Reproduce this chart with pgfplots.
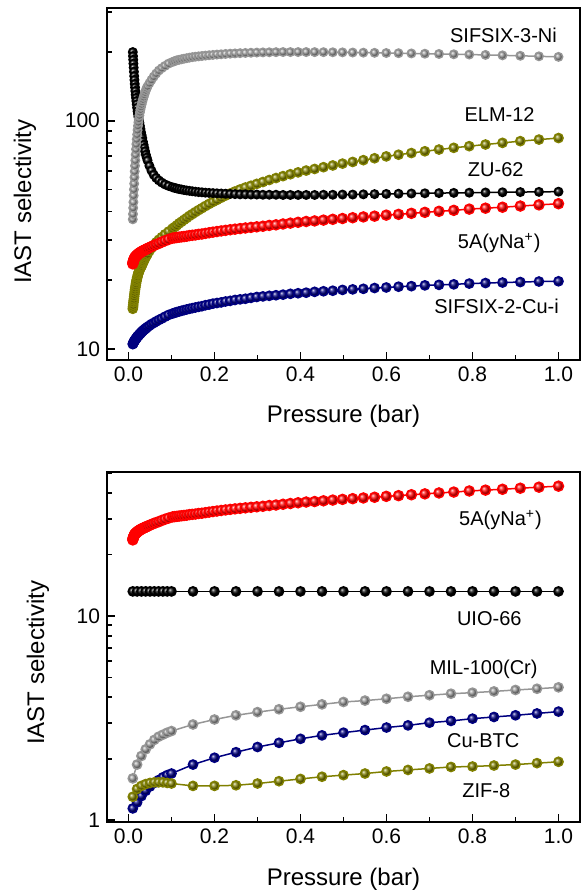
\documentclass[border=0pt]{standalone}
\usepackage{fontspec}
\setmainfont{Liberation Sans}
\usepackage{pgfplots}
\usepackage{pgfplotstable}
\pgfplotsset{compat=1.18}
\definecolor{cgray}{RGB}{150,150,150}
\definecolor{colive}{RGB}{128,128,0}
\definecolor{cnavy}{RGB}{0,0,128}
\definecolor{cred}{RGB}{255,0,0}

\pgfplotstableread{
x        s3ni   zu62   elm12  na5a   cu2i
0.01000  37     200    15.0   23.6   10.5
0.01048  39     192    15.3   23.9   10.55
0.01098  41.5   185    15.6   24.1   10.6
0.01150  44     178    16.0   24.3   10.65
0.01205  47     171    16.3   24.5   10.7
0.01262  50     164    16.6   24.7   10.75
0.01322  53     157    17.0   24.8   10.8
0.01385  56.5   151    17.4   25.0   10.85
0.01451  60     145    17.8   25.1   10.9
0.01520  63.5   140    18.2   25.2   10.95
0.01592  67     135    18.6   25.3   11.0
0.01668  71     130    19.0   25.4   11.05
0.01748  75     126    19.4   25.5   11.1
0.01831  79     122    19.8   25.6   11.15
0.01918  83     118    20.1   25.7   11.2
0.02009  87     114    20.5   25.8   11.3
0.02105  91     110    20.8   25.9   11.35
0.02205  95     107    21.2   26.0   11.4
0.02310  98.5   104    21.5   26.1   11.45
0.02420  102    101    21.8   26.2   11.5
0.02535  105.5  98     22.1   26.3   11.6
0.02656  109    95     22.4   26.4   11.65
0.02783  112    92     22.7   26.5   11.7
0.02915  115    89     22.9   26.6   11.8
0.03054  118    86.5   23.1   26.7   11.85
0.03199  121    84     23.5   26.8   11.95
0.03352  124    81     23.9   26.9   12.0
0.03511  127    78.5   24.2   27.0   12.1
0.03678  130    76     24.6   27.1   12.15
0.03854  133    73.5   25.0   27.2   12.25
0.04037  136    71     25.4   27.3   12.3
0.04229  139    69     25.7   27.4   12.4
0.04431  141.5  67     26.1   27.6   12.5
0.04863  146    63.5   26.9   27.8   12.65
0.05337  151    60.5   27.7   28.1   12.85
0.05857  156    58     28.5   28.4   13.0
0.06428  161    56.2   29.3   28.7   13.2
0.07055  166    54.8   30.1   29.0   13.4
0.07743  170    53.6   30.9   29.4   13.6
0.08498  174    52.6   31.8   29.8   13.85
0.09326  178    51.8   32.7   30.2   14.1
0.10235  181    51.1   33.7   30.6   14.3
0.10723  182.5  50.8   34.2   30.7   14.4
0.11233  184    50.5   34.8   30.8   14.5
0.11768  185    50.2   35.5   30.9   14.6
0.12328  186    50.0   36.1   31.0   14.7
0.12915  187    49.7   36.8   31.1   14.8
0.13530  188    49.5   37.5   31.2   14.9
0.14175  189    49.3   38.3   31.4   15.0
0.14850  190    49.1   39.0   31.5   15.1
0.15557  190.8  48.9   39.8   31.6   15.2
0.16298  191.5  48.7   40.6   31.8   15.3
0.17074  192.2  48.6   41.4   31.9   15.4
0.17887  193    48.4   42.3   32.1   15.55
0.18738  193.7  48.3   43.2   32.3   15.65
0.19630  194.3  48.2   44.1   32.5   15.8
0.20565  195    48.1   45.0   32.7   15.9
0.21544  195.6  48.0   46.0   32.9   16.0
0.22570  196.2  47.9   47.0   33.1   16.15
0.23645  196.8  47.8   48.0   33.3   16.25
0.24771  197.3  47.7   49.0   33.5   16.4
0.25950  197.8  47.6   50.0   33.7   16.5
0.27186  198.2  47.6   51.0   33.9   16.6
0.28480  198.6  47.5   51.9   34.1   16.75
0.29836  199    47.5   52.9   34.3   16.9
0.31257  199.3  47.4   53.9   34.5   17.0
0.32745  199.6  47.4   55.0   34.8   17.1
0.34305  199.8  47.4   56.1   35.0   17.2
0.35938  200    47.3   57.2   35.3   17.3
0.37649  200    47.3   58.3   35.6   17.45
0.39442  200    47.3   59.4   35.9   17.55
0.41320  200    47.3   60.5   36.2   17.65
0.43288  199.9  47.3   61.5   36.4   17.8
0.45349  199.8  47.4   62.6   36.7   17.9
0.47508  199.6  47.4   63.7   37.0   18.0
0.49770  199.4  47.5   64.9   37.3   18.15
0.52140  199.1  47.5   66.0   37.6   18.25
0.54623  198.8  47.6   67.2   37.9   18.35
0.57224  198.5  47.7   68.5   38.2   18.5
0.59948  198.1  47.8   69.8   38.6   18.6
0.62803  197.7  47.9   71.0   38.9   18.75
0.65793  197.2  48.0   72.2   39.3   18.85
0.68926  196.7  48.1   73.5   39.7   19.0
0.72208  196.2  48.2   74.8   40.1   19.1
0.75646  195.6  48.3   76.1   40.5   19.2
0.79248  195.0  48.4   77.4   41.0   19.35
0.83022  194.3  48.5   78.7   41.4   19.45
0.86975  193.5  48.6   80.0   41.8   19.55
0.91116  192.6  48.7   81.4   42.3   19.65
0.95455  191.6  48.8   82.7   42.8   19.75
1.00000  190.5  48.9   84.0   43.3   19.8
}\topdata

\pgfplotstableread{
x     mil    cubtc  zif    uio
0.01  1.60   1.14   1.30   13.2
0.02  1.87   1.22   1.42   13.2
0.03  2.06   1.31   1.47   13.2
0.04  2.22   1.39   1.50   13.2
0.05  2.35   1.46   1.52   13.2
0.06  2.47   1.52   1.53   13.2
0.07  2.56   1.57   1.53   13.2
0.08  2.62   1.62   1.53   13.2
0.09  2.68   1.66   1.52   13.2
0.10  2.73   1.69   1.51   13.2
0.15  2.94   1.87   1.47   13.2
0.20  3.11   2.02   1.47   13.2
0.25  3.26   2.15   1.48   13.2
0.30  3.38   2.28   1.51   13.2
0.35  3.49   2.39   1.55   13.2
0.40  3.59   2.50   1.59   13.2
0.45  3.69   2.60   1.63   13.2
0.50  3.79   2.68   1.66   13.2
0.55  3.85   2.76   1.69   13.2
0.60  3.93   2.84   1.73   13.2
0.65  4.02   2.91   1.76   13.2
0.70  4.09   3.00   1.79   13.2
0.75  4.16   3.06   1.82   13.2
0.80  4.21   3.14   1.83   13.2
0.85  4.27   3.20   1.85   13.2
0.90  4.34   3.26   1.87   13.2
0.95  4.40   3.33   1.90   13.2
1.00  4.47   3.40   1.93   13.2
}\botdata

\pgfplotsset{
  panel/.style={
    scale only axis, width=236.5pt,
    xmin=-0.05, xmax=1.05,
    xtick={0,0.2,0.4,0.6,0.8,1.0},
    xticklabels={0.0,0.2,0.4,0.6,0.8,1.0},
    minor xtick={0.1,0.3,0.5,0.7,0.9},
    xtick pos=bottom, ytick pos=left,
    tick align=inside,
    major tick length=4pt, minor tick length=2.5pt,
    tick style={black, line width=0.9pt},
    axis line style={line width=1.3pt},
    ticklabel style={font=\fontsize{10.5}{12}\selectfont},
    label style={font=\fontsize{12}{14}\selectfont},
    xlabel={Pressure (bar)},
    ylabel={IAST selectivity},
    xlabel style={at={(axis description cs:0.5,0)}, anchor=base, yshift=-31.5pt},
    every axis plot/.append style={line width=0.75pt, mark=ball, mark size=2.2pt},
  },
}
\tikzset{lab/.style={anchor=base, font=\fontsize{10}{12}\selectfont}}

\begin{document}
\begin{tikzpicture}
\useasboundingbox (0,0) rectangle (292pt,446pt);
% ---------------- top panel ----------------
\begin{axis}[ymode=log, panel,
  at={(53.5pt,266pt)}, anchor=south west, height=176pt,
  ymin=8.95, ymax=312,
  ytick={10,100}, yticklabels={10,100},
  minor ytick={9,20,30,40,50,60,70,80,90,200,300},
  ylabel style={at={(axis description cs:-0.1734,0.449)}, anchor=center},
]
\addplot[colive, mark size=2.3pt, mark options={ball color=colive}] table[x=x, y=elm12] {\topdata};
\addplot[black, mark size=2.1pt, mark options={ball color=black}] table[x=x, y=zu62] {\topdata};
\addplot[cgray, mark size=2.1pt, mark options={ball color=cgray}] table[x=x, y=s3ni] {\topdata};
\addplot[cred, mark size=2.5pt, mark options={ball color=cred}] table[x=x, y=na5a] {\topdata};
\addplot[cnavy, mark size=2.3pt, mark options={ball color=cnavy}] table[x=x, y=cu2i] {\topdata};
\node[lab] at (axis cs:0.872,220) {SIFSIX-3-Ni};
\node[lab] at (axis cs:0.863,99) {ELM-12};
\node[lab] at (axis cs:0.854,56.9) {ZU-62};
\node[lab] at (axis cs:0.862,27.6) {5A(yNa\textsuperscript{+})};
\node[lab] at (axis cs:0.856,14.3) {SIFSIX-2-Cu-i};
\end{axis}
% ---------------- bottom panel ----------------
\begin{axis}[ymode=log, panel,
  at={(53.5pt,35pt)}, anchor=south west, height=175pt,
  ymin=0.978, ymax=50.8,
  ytick={1,10}, yticklabels={1,10},
  minor ytick={2,3,4,5,6,7,8,9,20,30,40,50},
  ylabel style={at={(axis description cs:-0.1459,0.455)}, anchor=center},
]
\addplot[cred, mark size=2.5pt, mark options={ball color=cred}] table[x=x, y=na5a] {\topdata};
\addplot[black, mark size=2.3pt, mark options={ball color=black}] table[x=x, y=uio] {\botdata};
\addplot[cgray, mark size=2.3pt, mark options={ball color=cgray}] table[x=x, y=mil] {\botdata};
\addplot[cnavy, mark size=2.3pt, mark options={ball color=cnavy}] table[x=x, y=cubtc] {\botdata};
\addplot[colive, mark size=2.3pt, mark options={ball color=colive}] table[x=x, y=zif] {\botdata};
\node[lab] at (axis cs:0.865,27.8) {5A(yNa\textsuperscript{+})};
\node[lab] at (axis cs:0.839,9.0) {UIO-66};
\node[lab] at (axis cs:0.826,5.18) {MIL-100(Cr)};
\node[lab] at (axis cs:0.825,2.28) {Cu-BTC};
\node[lab] at (axis cs:0.832,1.29) {ZIF-8};
\end{axis}
\end{tikzpicture}
\end{document}
